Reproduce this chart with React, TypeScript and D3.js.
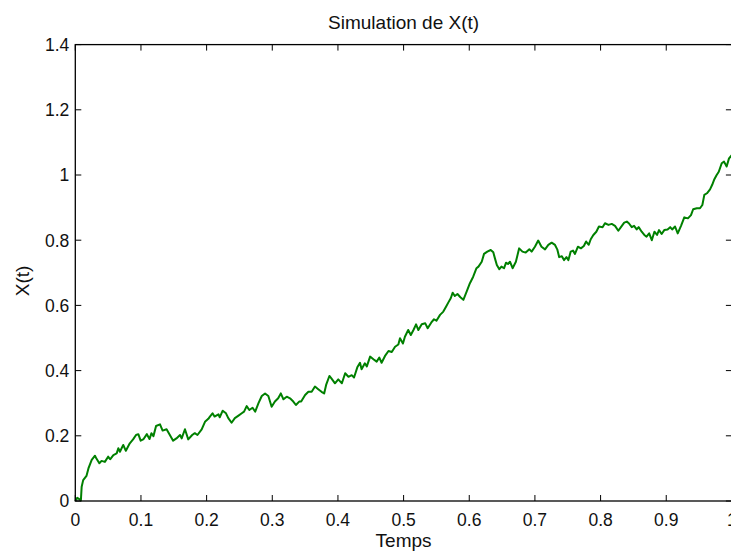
import React from "react";
import * as d3 from "d3";

// Simulated path X(t), sampled along the time axis
const times: number[] = [
  0, 0.003, 0.006, 0.0085, 0.0097, 0.012, 0.017, 0.02, 0.025, 0.03, 0.031, 0.0366, 0.04, 0.045,
  0.05, 0.053, 0.058, 0.063, 0.0655, 0.068, 0.073, 0.077, 0.083, 0.088, 0.0925, 0.096, 0.0995,
  0.104, 0.109, 0.113, 0.116, 0.119, 0.123, 0.129, 0.133, 0.139, 0.144, 0.149, 0.154, 0.1595,
  0.162, 0.167, 0.172, 0.178, 0.182, 0.186, 0.1925, 0.1975, 0.2026, 0.205, 0.209, 0.212, 0.218,
  0.22, 0.2245, 0.2295, 0.233, 0.238, 0.243, 0.248, 0.2535, 0.257, 0.261, 0.265, 0.27, 0.274,
  0.279, 0.284, 0.289, 0.294, 0.299, 0.304, 0.309, 0.313, 0.317, 0.322, 0.327, 0.332, 0.336,
  0.341, 0.344, 0.35, 0.355, 0.36, 0.365, 0.37, 0.375, 0.379, 0.382, 0.387, 0.39, 0.3955, 0.4005,
  0.406, 0.411, 0.416, 0.421, 0.4245, 0.4295, 0.4336, 0.436, 0.441, 0.444, 0.449, 0.454, 0.459,
  0.463, 0.4665, 0.4717, 0.477, 0.482, 0.487, 0.492, 0.4945, 0.499, 0.502, 0.507, 0.511, 0.515,
  0.519, 0.5225, 0.5276, 0.533, 0.5367, 0.542, 0.5463, 0.55, 0.5555, 0.5605, 0.5646, 0.568,
  0.5718, 0.5748, 0.578, 0.582, 0.5865, 0.591, 0.596, 0.601, 0.606, 0.611, 0.614, 0.619, 0.6225,
  0.6275, 0.6327, 0.6366, 0.639, 0.642, 0.6458, 0.649, 0.653, 0.656, 0.659, 0.662, 0.666, 0.671,
  0.676, 0.681, 0.686, 0.6915, 0.695, 0.7, 0.705, 0.71, 0.7154, 0.7204, 0.7255, 0.7306, 0.734,
  0.737, 0.741, 0.7443, 0.748, 0.751, 0.7545, 0.758, 0.761, 0.7655, 0.77, 0.7745, 0.778, 0.782,
  0.785, 0.789, 0.7935, 0.7975, 0.803, 0.8067, 0.812, 0.817, 0.822, 0.827, 0.831, 0.836, 0.84,
  0.843, 0.8475, 0.851, 0.855, 0.858, 0.8626, 0.8666, 0.87, 0.874, 0.878, 0.882, 0.886, 0.889,
  0.893, 0.897, 0.902, 0.906, 0.909, 0.9134, 0.9175, 0.9225, 0.9275, 0.933, 0.9377, 0.941,
  0.9465, 0.9514, 0.955, 0.958, 0.962, 0.9667, 0.97, 0.9733, 0.9768, 0.98, 0.9845, 0.988, 0.992,
  0.9956, 1.0,
];

const values: number[] = [
  0, 0.01, 0.006, 0.002, 0.044, 0.064, 0.077, 0.1, 0.126, 0.139, 0.134, 0.116, 0.123, 0.12,
  0.136, 0.128, 0.141, 0.146, 0.162, 0.151, 0.172, 0.154, 0.177, 0.189, 0.2025, 0.205, 0.185,
  0.19, 0.205, 0.19, 0.208, 0.199, 0.23, 0.235, 0.216, 0.22, 0.2025, 0.185, 0.192, 0.2025,
  0.192, 0.22, 0.189, 0.2025, 0.208, 0.2025, 0.22, 0.243, 0.252, 0.259, 0.269, 0.259, 0.266,
  0.257, 0.277, 0.269, 0.254, 0.24, 0.254, 0.261, 0.269, 0.274, 0.291, 0.279, 0.286, 0.274,
  0.3, 0.322, 0.33, 0.322, 0.289, 0.305, 0.315, 0.33, 0.312, 0.32, 0.315, 0.305, 0.2945,
  0.305, 0.305, 0.325, 0.335, 0.335, 0.351, 0.343, 0.335, 0.33, 0.356, 0.3835, 0.376, 0.361,
  0.373, 0.361, 0.392, 0.381, 0.386, 0.379, 0.41, 0.424, 0.404, 0.4225, 0.413, 0.443, 0.435,
  0.4275, 0.44, 0.424, 0.445, 0.46, 0.457, 0.473, 0.48, 0.499, 0.483, 0.504, 0.5245, 0.509,
  0.5245, 0.542, 0.5245, 0.542, 0.545, 0.53, 0.547, 0.5575, 0.553, 0.571, 0.581, 0.596, 0.6085,
  0.622, 0.639, 0.629, 0.635, 0.625, 0.617, 0.642, 0.668, 0.688, 0.714, 0.719, 0.734, 0.758,
  0.765, 0.77, 0.763, 0.745, 0.724, 0.711, 0.719, 0.714, 0.731, 0.727, 0.734, 0.714, 0.734,
  0.775, 0.765, 0.762, 0.772, 0.765, 0.78, 0.799, 0.78, 0.772, 0.7855, 0.7925, 0.7855, 0.772,
  0.748, 0.751, 0.739, 0.748, 0.739, 0.765, 0.768, 0.758, 0.78, 0.775, 0.782, 0.796, 0.786,
  0.803, 0.816, 0.826, 0.842, 0.84, 0.852, 0.847, 0.85, 0.844, 0.829, 0.84, 0.854, 0.857,
  0.852, 0.84, 0.844, 0.833, 0.84, 0.826, 0.816, 0.811, 0.821, 0.8, 0.826, 0.816, 0.831,
  0.819, 0.831, 0.833, 0.84, 0.833, 0.842, 0.821, 0.844, 0.87, 0.867, 0.877, 0.895,
  0.898, 0.898, 0.908, 0.939, 0.944, 0.956, 0.97, 0.987, 1.0, 1.01, 1.036, 1.041, 1.026,
  1.051, 1.061,
];

const xTicks: number[] = [0, 0.1, 0.2, 0.3, 0.4, 0.5, 0.6, 0.7, 0.8, 0.9, 1];
const yTicks: number[] = [0, 0.2, 0.4, 0.6, 0.8, 1, 1.2, 1.4];

const titleText = "Simulation de X(t)";
const xLabel = "Temps";
const yLabel = "X(t)";

const W = 731;
const H = 551;
const left = 75.3;
const right = 731.9;
const top = 44.6;
const bottom = 501;
const tickLen = 6;
const font = "'Liberation Sans', Arial, Helvetica, sans-serif";

export default function App() {
  const x = d3.scaleLinear().domain([0, 1]).range([left, right]);
  const y = d3.scaleLinear().domain([0, 1.4]).range([bottom, top]);

  const pts: [number, number][] = times.map((t, i) => [t, values[i]]);
  const line = d3
    .line<[number, number]>()
    .x((d) => x(d[0]))
    .y((d) => y(d[1]));

  const fmt = (v: number) => String(+v.toFixed(1));

  return (
    <svg
      width={W}
      height={H}
      style={{ position: "absolute", left: 0, top: 0, background: "#fff" }}
    >
      <rect x={0} y={0} width={W} height={H} fill="#fff" />
      <path d={line(pts) ?? ""} fill="none" stroke="#008000" strokeWidth={2} strokeLinejoin="round" />

      {/* ticks on all four sides, pointing inward */}
      <g stroke="#000" strokeWidth={1}>
        {xTicks.map((t) => (
          <g key={"xt" + t}>
            <line x1={x(t)} x2={x(t)} y1={bottom} y2={bottom - tickLen} />
            <line x1={x(t)} x2={x(t)} y1={top} y2={top + tickLen} />
          </g>
        ))}
        {yTicks.map((t) => (
          <g key={"yt" + t}>
            <line x1={left} x2={left + tickLen} y1={y(t)} y2={y(t)} />
            <line x1={right} x2={right - tickLen} y1={y(t)} y2={y(t)} />
          </g>
        ))}
      </g>

      <rect
        x={left}
        y={top}
        width={right - left}
        height={bottom - top}
        fill="none"
        stroke="#000"
        strokeWidth={1.3}
      />

      <g fontFamily={font} fontSize={17.5} fill="#111">
        {xTicks.map((t) => (
          <text key={"xl" + t} x={x(t)} y={526} textAnchor="middle">
            {fmt(t)}
          </text>
        ))}
        {yTicks.map((t) => (
          <text key={"yl" + t} x={left - 6} y={y(t) + 6.3} textAnchor="end">
            {fmt(t)}
          </text>
        ))}
      </g>

      <g fontFamily={font} fontSize={19} fill="#111">
        <text x={(left + right) / 2} y={29} textAnchor="middle">
          {titleText}
        </text>
        <text x={(left + right) / 2} y={547} textAnchor="middle">
          {xLabel}
        </text>
        <text transform={`translate(29, 281) rotate(-90)`} textAnchor="middle">
          {yLabel}
        </text>
      </g>
    </svg>
  );
}
